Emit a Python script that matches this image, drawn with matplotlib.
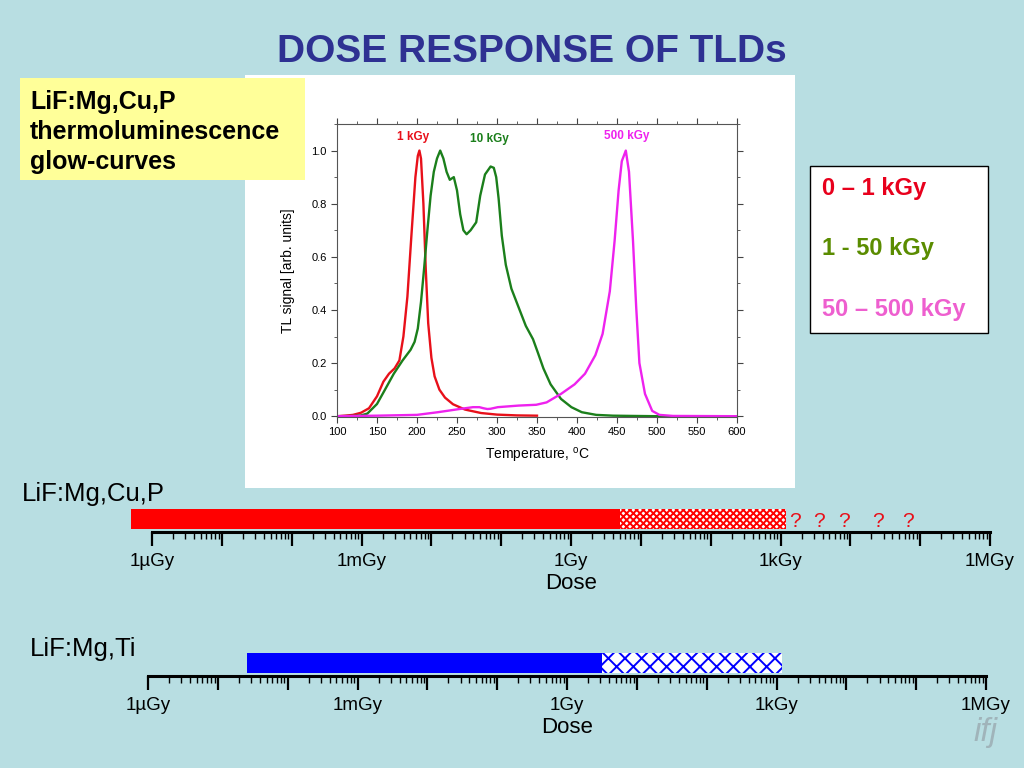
import numpy as np
import matplotlib
matplotlib.use("Agg")
import matplotlib.pyplot as plt
from matplotlib.patches import Rectangle
from matplotlib.ticker import LogLocator, NullFormatter, MultipleLocator, FormatStrFormatter

plt.rcParams['font.family'] = ['Liberation Sans', 'DejaVu Sans']
plt.rcParams['hatch.linewidth'] = 1.4

# glow curves, TL signal vs temperature (C)
t_1k = [100, 110, 120, 130, 140, 150, 158, 165, 172, 178, 183, 188, 193, 198, 201, 203,
        205, 208, 211, 214, 218, 222, 228, 235, 245, 260, 280, 300, 325, 350]
s_1k = [0.0, 0.002, 0.005, 0.013, 0.03, 0.075, 0.13, 0.16, 0.18, 0.21, 0.3, 0.45, 0.68, 0.9, 0.98, 1.0,
        0.97, 0.8, 0.55, 0.35, 0.22, 0.15, 0.1, 0.07, 0.045, 0.025, 0.012, 0.006, 0.003, 0.002]

t_10k = [100, 120, 130, 138, 150, 160, 171, 182, 192, 197, 201, 205, 209, 213, 217, 221, 225, 229,
         233, 237, 241, 246, 250, 254, 258, 262, 267, 274, 279, 285, 292, 296, 299, 302, 306, 311,
         318, 327, 336, 345, 351, 358, 367, 380, 393, 406, 424, 445, 470, 500, 600]
s_10k = [0.0, 0.001, 0.003, 0.01, 0.046, 0.1, 0.16, 0.21, 0.25, 0.28, 0.33, 0.43, 0.56, 0.70, 0.83, 0.92, 0.97, 1.0,
         0.97, 0.92, 0.89, 0.90, 0.85, 0.76, 0.70, 0.685, 0.70, 0.73, 0.83, 0.91, 0.94, 0.935, 0.90, 0.82, 0.68, 0.57,
         0.48, 0.41, 0.34, 0.29, 0.24, 0.18, 0.12, 0.065, 0.034, 0.015, 0.005, 0.002, 0.001, 0.0, 0.0]

t_500k = [100, 150, 200, 226, 253, 270, 278, 283, 288, 292, 301, 327, 349, 362, 380, 397, 410, 423,
          432, 441, 447, 452, 456, 461, 465, 470, 474, 478, 485, 494, 503, 520, 600]
s_500k = [0.0, 0.002, 0.005, 0.015, 0.027, 0.034, 0.034, 0.03, 0.027, 0.028, 0.034, 0.04, 0.043, 0.052, 0.084, 0.12, 0.16, 0.23,
          0.31, 0.47, 0.66, 0.85, 0.96, 1.0, 0.92, 0.66, 0.41, 0.2, 0.084, 0.02, 0.005, 0.001, 0.0]

curve_names = ['1 kGy', '10 kGy', '500 kGy']
curve_label_t = [195, 291, 462]
curve_label_s = [1.05, 1.045, 1.055]

ranges = ['0 – 1 kGy', '1 - 50 kGy', '50 – 500 kGy']

# dose ranges in Gy: solid part, hatched part
cup_solid = (5e-7, 5.0)
cup_hatch = (5.0, 1.2e3)
cup_unknown = [1.6e3, 3.5e3, 8.1e3, 2.5e4, 6.8e4]
ti_solid = (2.6e-5, 3.2)
ti_hatch = (3.2, 1.2e3)

dose_ticks = [1e-6, 1e-5, 1e-4, 1e-3, 1e-2, 1e-1, 1, 10, 100, 1e3, 1e4, 1e5, 1e6]
dose_labels = ['1µGy', '', '', '1mGy', '', '', '1Gy', '', '', '1kGy', '', '', '1MGy']

W, H = 1024, 768
bg = '#b8dee2'


def box(x0, y0, x1, y1):
    return [x0 / W, 1 - y1 / H, (x1 - x0) / W, (y1 - y0) / H]


fig = plt.figure(figsize=(10.24, 7.68), dpi=100, facecolor=bg)

fig.text(532 / W, 1 - 52 / H, 'DOSE RESPONSE OF TLDs', ha='center', va='center',
         fontsize=28, fontweight='bold', color='#2e3192')

# white panel + yellow box
fig.add_artist(Rectangle((245 / W, 1 - 488 / H), 550 / W, 413 / H, transform=fig.transFigure,
                         facecolor='white', edgecolor='none', zorder=1))
fig.add_artist(Rectangle((20 / W, 1 - 180 / H), 285 / W, 102 / H, transform=fig.transFigure,
                         facecolor='#ffff99', edgecolor='none', zorder=2))
fig.text(30 / W, 1 - 132 / H, 'LiF:Mg,Cu,P\nthermoluminescence\nglow-curves', ha='left', va='center',
         fontsize=18, fontweight='bold', linespacing=1.33, zorder=3)

# legend of ranges
fig.add_artist(Rectangle((810 / W, 1 - 333 / H), 178 / W, 167 / H, transform=fig.transFigure,
                         facecolor='white', edgecolor='black', linewidth=1, zorder=2))
range_colors = ['#e8001c', '#5a8c00', '#ee5fcf']
for i, (r, c) in enumerate(zip(ranges, range_colors)):
    fig.text(822 / W, 1 - (188 + 61 * i) / H, r, ha='left', va='center', fontsize=17,
             fontweight='bold', color=c, zorder=3)

# glow curve plot
ax = fig.add_axes(box(337, 124, 737, 417))
ax.set_zorder(5)
ax.set_facecolor('white')
cols = ['#e8101a', '#1b7f1b', '#ee22ee']
ax.plot(t_1k, s_1k, color=cols[0], lw=1.7)
ax.plot(t_10k, s_10k, color=cols[1], lw=1.7)
ax.plot(t_500k, s_500k, color=cols[2], lw=1.7)
for n, tx, sy, c in zip(curve_names, curve_label_t, curve_label_s, cols):
    ax.text(tx, sy, n, color=c, fontsize=8.5, fontweight='bold', ha='center', va='center')
ax.set_xlim(100, 600)
ax.set_ylim(-0.003, 1.1)
ax.xaxis.set_major_locator(MultipleLocator(50))
ax.xaxis.set_minor_locator(MultipleLocator(25))
ax.yaxis.set_major_locator(MultipleLocator(0.2))
ax.yaxis.set_minor_locator(MultipleLocator(0.1))
ax.yaxis.set_major_formatter(FormatStrFormatter('%.1f'))
ax.tick_params(which='both', direction='out', top=True, right=True, labelsize=8, color='#444444')
ax.tick_params(which='major', length=4)
ax.tick_params(which='minor', length=2)
for s in ax.spines.values():
    s.set_color('#555555')
ax.set_xlabel('Temperature, $^\\mathregular{o}$C', fontsize=10, labelpad=6)
ax.set_ylabel('TL signal [arb. units]', fontsize=10, labelpad=12)


def dose_axis(rect, solid, hatch, color, hatchpat, name, name_xy, unknown=None):
    a = fig.add_axes(rect)
    a.set_zorder(5)
    a.patch.set_alpha(0)
    a.set_xscale('log')
    a.set_xlim(1e-6, 1e6)
    a.set_ylim(0, 1)
    a.barh(0.48, solid[1] - solid[0], left=solid[0], height=0.74, color=color, clip_on=False)
    a.barh(0.48, hatch[1] - hatch[0], left=hatch[0], height=0.74, facecolor='white',
           edgecolor=color, linewidth=0, hatch=hatchpat, clip_on=False)
    if unknown is not None:
        for d in unknown:
            a.text(d, 0.38, '?', color='#e8101a', fontsize=15, ha='center', va='center')
    for s in ['top', 'left', 'right']:
        a.spines[s].set_visible(False)
    a.spines['bottom'].set_linewidth(2.2)
    a.set_yticks([])
    a.set_xticks(dose_ticks)
    a.set_xticklabels(dose_labels)
    a.xaxis.set_minor_locator(LogLocator(base=10, subs=np.arange(2, 10), numticks=100))
    a.xaxis.set_minor_formatter(NullFormatter())
    a.tick_params(which='major', direction='out', length=10, width=1.6, labelsize=13.5, pad=5)
    a.tick_params(which='minor', direction='out', length=5, width=1)
    a.set_xlabel('Dose', fontsize=16, labelpad=2)
    fig.text(name_xy[0] / W, 1 - name_xy[1] / H, name, fontsize=18.5, ha='left', va='center')
    return a


dose_axis(box(152, 505, 990, 532), cup_solid, cup_hatch, '#ff0000', 'xxxxx', 'LiF:Mg,Cu,P',
          (22, 494), cup_unknown)
dose_axis(box(148, 649, 986, 676), ti_solid, ti_hatch, '#0000ff', 'xx', 'LiF:Mg,Ti', (30, 649))

fig.text(985 / W, 1 - 732 / H, 'ifj', fontsize=24, style='italic', color='#9aaab0',
         ha='center', va='center', alpha=0.8)

fig.savefig('out.png', dpi=100, facecolor=bg)
